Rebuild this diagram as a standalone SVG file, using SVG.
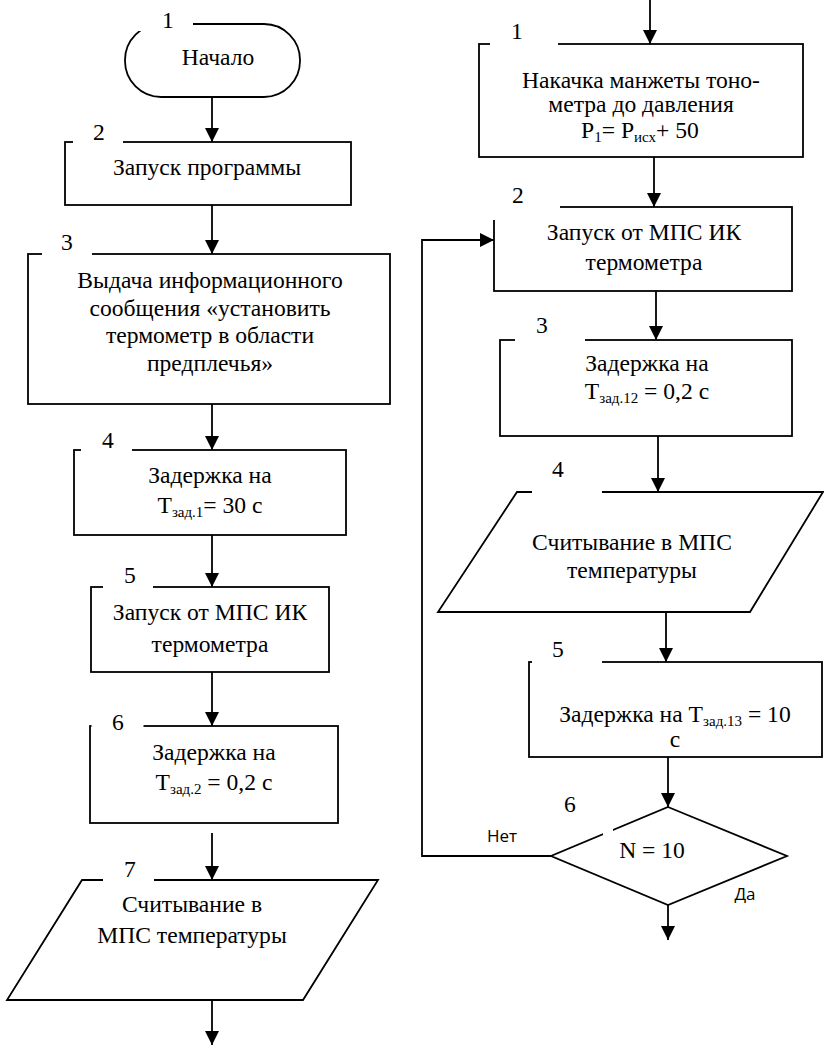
<svg xmlns="http://www.w3.org/2000/svg" width="824" height="1047" viewBox="0 0 824 1047">
<style>
.s{fill:#fff;stroke:#000;stroke-width:1.8}
.c{fill:none;stroke:#000;stroke-width:1.8}
.g{fill:#fff;stroke:none}
.t{font-family:"Liberation Serif","Times New Roman",serif;font-size:23.6px;fill:#000;text-anchor:middle}
.n{font-family:"Liberation Serif","Times New Roman",serif;font-size:23.6px;fill:#000;text-anchor:middle}
.sb{font-size:15px}
.y{font-family:"Open Sans","Liberation Sans",sans-serif;font-size:17px;fill:#000;text-anchor:middle}
</style>
<defs>
<marker id="ah" viewBox="0 0 14 14" refX="14" refY="7" markerWidth="14" markerHeight="14" markerUnits="userSpaceOnUse" orient="auto">
<path d="M0,0 L14,7 L0,14 Z" fill="#000"/>
</marker>
</defs>
<rect width="824" height="1047" fill="#fff"/>
<g id="connectors">
<line class="c" x1="212" y1="97" x2="212" y2="142" marker-end="url(#ah)"/>
<line class="c" x1="212" y1="205" x2="212" y2="254" marker-end="url(#ah)"/>
<line class="c" x1="212" y1="404" x2="212" y2="450" marker-end="url(#ah)"/>
<line class="c" x1="212" y1="535" x2="212" y2="587" marker-end="url(#ah)"/>
<line class="c" x1="212" y1="672" x2="212" y2="726" marker-end="url(#ah)"/>
<line class="c" x1="212" y1="833" x2="212" y2="880" marker-end="url(#ah)"/>
<line class="c" x1="212" y1="1000" x2="212" y2="1045" marker-end="url(#ah)"/>
<line class="c" x1="650" y1="0" x2="650" y2="44" marker-end="url(#ah)"/>
<line class="c" x1="654" y1="157" x2="654" y2="207" marker-end="url(#ah)"/>
<line class="c" x1="656" y1="291" x2="656" y2="340" marker-end="url(#ah)"/>
<line class="c" x1="658" y1="436" x2="658" y2="492" marker-end="url(#ah)"/>
<line class="c" x1="666" y1="612" x2="666" y2="662" marker-end="url(#ah)"/>
<line class="c" x1="668" y1="757" x2="668" y2="807" marker-end="url(#ah)"/>
<line class="c" x1="668" y1="905" x2="668" y2="940" marker-end="url(#ah)"/>
<polyline class="c" points="551,856 422,856 422,240 494,240" marker-end="url(#ah)"/>
<text class="y" x="502" y="842">Нет</text>
<text class="y" x="745" y="900">Да</text>
</g>
<g id="L1">
<rect class="s" x="125" y="24" width="175" height="73" rx="36" ry="36"/>
<rect class="g" x="138" y="8" width="55" height="23"/>
<text class="n" x="168" y="28">1</text>
<text class="t" x="218" y="65">Начало</text>
</g>
<g id="L2">
<rect class="s" x="65" y="142" width="286" height="63"/>
<rect class="g" x="73" y="125" width="50" height="20"/>
<text class="n" x="99" y="140">2</text>
<text class="t" x="207" y="175">Запуск программы</text>
</g>
<g id="L3">
<rect class="s" x="28" y="254" width="362" height="150"/>
<rect class="g" x="42" y="236" width="50" height="21"/>
<text class="n" x="67" y="250">3</text>
<text class="t" x="210" y="288">Выдача информационного</text>
<text class="t" x="210" y="316">сообщения «установить</text>
<text class="t" x="210" y="343">термометр в области</text>
<text class="t" x="210" y="371">предплечья»</text>
</g>
<g id="L4">
<rect class="s" x="74" y="450" width="272" height="85"/>
<rect class="g" x="81" y="433" width="51" height="20"/>
<text class="n" x="108" y="448">4</text>
<text class="t" x="210" y="483">Задержка на</text>
<text class="t" x="210" y="513">Т<tspan class="sb" dy="4">зад.1</tspan><tspan dy="-4">= 30 с</tspan></text>
</g>
<g id="L5">
<rect class="s" x="91" y="587" width="238" height="85"/>
<rect class="g" x="103" y="569" width="50" height="21"/>
<text class="n" x="130" y="583">5</text>
<text class="t" x="210" y="620">Запуск от МПС ИК</text>
<text class="t" x="210" y="652">термометра</text>
</g>
<g id="L6">
<rect class="s" x="90" y="726" width="248" height="97"/>
<rect class="g" x="91.5" y="712" width="52" height="16"/>
<text class="n" x="118" y="730">6</text>
<text class="t" x="214" y="760">Задержка на</text>
<text class="t" x="214" y="790">Т<tspan class="sb" dy="4">зад.2</tspan><tspan dy="-4"> = 0,2 с</tspan></text>
</g>
<g id="L7">
<polygon class="s" points="82,880 378,880 303,1000 7,1000"/>
<rect class="g" x="103" y="862" width="51" height="20"/>
<text class="n" x="130" y="877">7</text>
<text class="t" x="192" y="912">Считывание в</text>
<text class="t" x="192" y="943">МПС температуры</text>
</g>
<g id="R1">
<rect class="s" x="479" y="44" width="324" height="113"/>
<rect class="g" x="490" y="26" width="68" height="20"/>
<text class="n" x="517" y="39">1</text>
<text class="t" x="641" y="88">Накачка манжеты тоно-</text>
<text class="t" x="641" y="112">метра до давления</text>
<text class="t" x="640" y="138">Р<tspan class="sb" dy="4">1</tspan><tspan dy="-4">= Р</tspan><tspan class="sb" dy="4">исх</tspan><tspan dy="-4">+ 50</tspan></text>
</g>
<g id="R2">
<rect class="s" x="494" y="207" width="298" height="84"/>
<rect class="g" x="488" y="188" width="72" height="32"/>
<text class="n" x="518" y="203">2</text>
<text class="t" x="644" y="240">Запуск от МПС ИК</text>
<text class="t" x="644" y="270">термометра</text>
</g>
<g id="R3">
<rect class="s" x="500" y="340" width="292" height="96"/>
<rect class="g" x="515" y="320" width="70" height="22"/>
<text class="n" x="542" y="333">3</text>
<text class="t" x="647" y="371">Задержка на</text>
<text class="t" x="647" y="399">Т<tspan class="sb" dy="4">зад.12</tspan><tspan dy="-4"> = 0,2 с</tspan></text>
</g>
<g id="R4">
<polygon class="s" points="517,492 823,492 750,612 438,612"/>
<rect class="g" x="532" y="474" width="70" height="20"/>
<text class="n" x="558" y="477">4</text>
<text class="t" x="632" y="550">Считывание в МПС</text>
<text class="t" x="632" y="578">температуры</text>
</g>
<g id="R5">
<rect class="s" x="529" y="662" width="293" height="95"/>
<rect class="g" x="532" y="642" width="70" height="22"/>
<text class="n" x="558" y="657">5</text>
<text class="t" x="675" y="722">Задержка на Т<tspan class="sb" dy="4">зад.13</tspan><tspan dy="-4"> = 10</tspan></text>
<text class="t" x="675" y="747">с</text>
</g>
<g id="R6">
<polygon class="s" points="668,807 787,856 668,905 551,856"/>
<rect class="g" x="603" y="826" width="10" height="9"/>
<text class="n" x="570" y="812">6</text>
<text class="t" x="652" y="858">N = 10</text>
</g>
</svg>
